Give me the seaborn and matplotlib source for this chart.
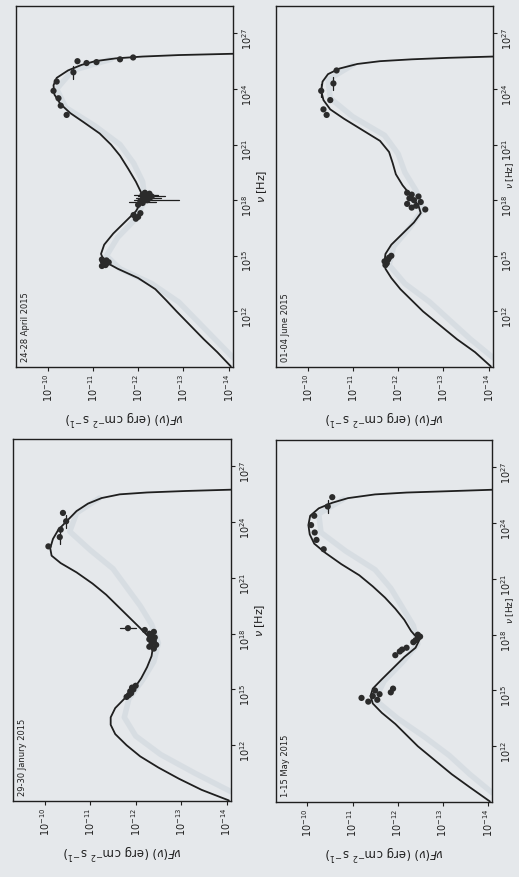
import numpy as np
import matplotlib
matplotlib.use("Agg")
import matplotlib.pyplot as plt
import seaborn as sns

# ---------------- data (log10 values) ----------------
titles = ["24-28 April 2015", "01-04 June 2015", "29-30 Janury 2015", "1-15 May 2015"]

# April
apr_m_nu = [9.03, 9.8, 10.5, 11.0, 11.5, 12.0, 12.6, 13.2, 13.8, 14.3, 14.7, 15.1, 15.6, 16.2, 16.8,
            17.4, 17.9, 18.4, 19.0, 19.7, 20.4, 21.0, 21.6, 22.2, 22.7, 23.2, 23.7, 24.2, 24.6, 25.0,
            25.3, 25.5, 25.65, 25.75, 25.83, 25.9]
apr_m_F = [-14.05, -13.75, -13.45, -13.25, -13.05, -12.85, -12.62, -12.38, -12.0, -11.55, -11.25, -11.18,
           -11.25, -11.45, -11.7, -11.95, -12.07, -12.07, -11.95, -11.78, -11.6, -11.4, -11.15, -10.8,
           -10.5, -10.28, -10.15, -10.13, -10.2, -10.45, -10.75, -11.05, -11.5, -12.1, -12.9, -14.1]
apr_b_nu = [9.5, 10.5, 11.5, 12.5, 13.5, 14.3, 15.0, 16.0, 17.0, 18.0, 19.0, 20.0, 21.0, 22.0, 23.0, 24.0, 25.0, 25.6]
apr_b_F = [-14.1, -13.7, -13.3, -12.9, -12.3, -11.6, -11.3, -11.55, -11.95, -12.15, -12.1, -11.9, -11.6, -11.05, -10.4, -10.2, -10.55, -11.4]
apr_p_nu = [14.45, 14.55, 14.6, 14.7, 14.75, 14.8, 14.65, 14.5, 17.0, 17.1, 17.2, 17.3,
            17.75, 17.85, 17.95, 18.0, 18.05, 18.1, 18.15, 18.2, 18.25, 18.3, 18.35, 18.4,
            22.6, 23.1, 23.5, 23.9, 24.4, 24.9, 25.4, 25.45, 25.5, 25.6, 25.7]
apr_p_F = [-11.2, -11.25, -11.3, -11.22, -11.3, -11.2, -11.35, -11.28, -11.95, -12.0, -11.9, -12.05,
           -12.0, -12.1, -12.05, -12.2, -12.1, -12.25, -12.15, -12.3, -12.2, -12.1, -12.25, -12.15,
           -10.42, -10.29, -10.24, -10.13, -10.2, -10.57, -10.86, -11.08, -10.66, -11.6, -11.89]
apr_e_nu = [17.9, 18.0, 18.1, 18.2, 18.3, 24.9]
apr_e_lo = [-12.4, -12.9, -12.5, -12.6, -12.45, -10.57]
apr_e_hi = [-11.8, -11.9, -11.95, -12.0, -11.9, -10.57]

# June
jun_m_nu = [9.03, 9.8, 10.5, 11.0, 11.5, 12.0, 12.6, 13.2, 13.8, 14.3, 14.7, 15.1, 15.6, 16.2, 16.8,
            17.3, 17.7, 18.2, 18.8, 19.4, 20.0, 20.6, 21.2, 21.8, 22.4, 22.9, 23.4, 23.9, 24.4, 24.8,
            25.1, 25.35, 25.5, 25.6, 25.68, 25.75]
jun_m_F = [-14.05, -13.7, -13.3, -13.05, -12.8, -12.55, -12.3, -12.05, -11.85, -11.72, -11.7, -11.72,
           -11.85, -12.1, -12.35, -12.5, -12.45, -12.3, -12.1, -11.95, -11.88, -11.8, -11.6, -11.2,
           -10.8, -10.5, -10.35, -10.3, -10.33, -10.45, -10.7, -11.1, -11.6, -12.3, -13.1, -14.1]
jun_b_nu = [9.5, 10.5, 11.5, 12.5, 13.5, 14.5, 15.5, 16.5, 17.5, 18.5, 19.5, 20.5, 21.5, 22.5, 23.5, 24.5, 25.3]
jun_b_F = [-14.1, -13.6, -13.15, -12.7, -12.15, -11.8, -11.9, -12.25, -12.55, -12.4, -12.15, -12.0, -11.7, -11.0, -10.5, -10.45, -11.0]
jun_p_nu = [14.5, 14.6, 14.7, 14.8, 14.9, 15.0, 17.6, 17.7, 17.8, 17.9, 18.0, 18.1, 18.2, 18.3, 18.4, 17.5,
            22.6, 22.9, 23.4, 23.9, 24.3, 25.0]
jun_p_F = [-11.72, -11.75, -11.7, -11.78, -11.8, -11.85, -12.3, -12.4, -12.2, -12.5, -12.35, -12.25, -12.45,
           -12.3, -12.2, -12.6, -10.42, -10.35, -10.5, -10.3, -10.57, -10.64]
jun_e_nu = [24.3, 23.9]
jun_e_lo = [-10.57, -10.3]
jun_e_hi = [-10.57, -10.3]

# January
jan_m_nu = [9.03, 9.6, 10.2, 10.8, 11.4, 12.0, 12.6, 13.1, 13.5, 14.0, 14.5, 15.0, 15.6, 16.2, 16.8,
            17.3, 17.8, 18.3, 18.9, 19.5, 20.1, 20.7, 21.3, 21.8, 22.2, 22.6, 23.1, 23.6, 24.1, 24.6,
            25.0, 25.3, 25.5, 25.6, 25.68, 25.75]
jan_m_F = [-14.05, -13.45, -12.95, -12.5, -12.1, -11.8, -11.55, -11.45, -11.45, -11.55, -11.75, -11.95,
           -12.12, -12.25, -12.35, -12.38, -12.3, -12.1, -11.85, -11.6, -11.35, -11.05, -10.7, -10.35,
           -10.15, -10.12, -10.18, -10.3, -10.5, -10.7, -10.95, -11.25, -11.65, -12.25, -13.1, -14.1]
jan_b_nu = [9.5, 10.5, 11.5, 12.5, 13.5, 14.5, 15.5, 16.5, 17.5, 18.5, 19.5, 20.5, 21.5, 22.5, 23.5, 24.5, 25.3]
jan_b_F = [-14.1, -13.3, -12.55, -12.0, -11.75, -11.85, -12.15, -12.4, -12.5, -12.35, -12.1, -11.8, -11.5, -11.0, -10.55, -10.7, -11.2]
jan_p_nu = [14.6, 14.7, 14.8, 14.9, 15.0, 15.1, 15.2, 17.2, 17.3, 17.4, 17.5, 17.6, 17.7, 17.8, 17.9,
            18.0, 18.1, 18.2, 18.3, 22.7, 23.2, 23.6, 24.05, 24.5]
jan_p_F = [-11.8, -11.85, -11.9, -11.88, -11.95, -11.92, -12.0, -12.4, -12.3, -12.45, -12.35, -12.4, -12.3,
           -12.42, -12.35, -12.3, -12.4, -12.2, -11.83, -10.08, -10.33, -10.35, -10.47, -10.4]
jan_e_nu = [18.3, 23.2, 24.05]
jan_e_lo = [-12.0, -10.33, -10.47]
jan_e_hi = [-11.65, -10.33, -10.47]

# May
may_m_nu = [9.03, 9.8, 10.5, 11.0, 11.5, 12.0, 12.6, 13.2, 13.8, 14.3, 14.7, 15.1, 15.6, 16.2, 16.8,
            17.3, 17.7, 18.2, 18.8, 19.4, 20.0, 20.6, 21.2, 21.8, 22.4, 22.9, 23.4, 23.9, 24.4, 24.8,
            25.1, 25.35, 25.55, 25.65, 25.72, 25.8]
may_m_F = [-14.05, -13.6, -13.2, -12.95, -12.7, -12.45, -12.2, -11.95, -11.65, -11.45, -11.4, -11.45,
           -11.65, -11.9, -12.15, -12.4, -12.48, -12.3, -12.15, -11.95, -11.72, -11.45, -11.15, -10.75,
           -10.4, -10.15, -10.05, -10.02, -10.06, -10.25, -10.55, -10.9, -11.5, -12.2, -13.1, -14.1]
may_b_nu = [9.5, 10.5, 11.5, 12.5, 13.5, 14.5, 15.5, 16.5, 17.5, 18.5, 19.5, 20.5, 21.5, 22.5, 23.5, 24.5, 25.3]
may_b_F = [-14.1, -13.6, -13.15, -12.6, -12.0, -11.5, -11.7, -12.1, -12.45, -12.35, -12.1, -11.85, -11.5, -10.85, -10.3, -10.25, -10.8]
may_p_nu = [14.4, 14.5, 14.6, 14.7, 14.8, 14.9, 15.0, 15.1, 16.9, 17.1, 17.2, 17.3, 17.6, 17.7, 17.8, 17.9, 18.0,
            22.6, 23.1, 23.5, 23.9, 24.4, 24.9, 25.4]
may_p_F = [-11.35, -11.55, -11.2, -11.45, -11.6, -11.85, -11.5, -11.9, -11.95, -12.05, -12.1, -12.2, -12.35,
           -12.4, -12.45, -12.5, -12.45, -10.36, -10.2, -10.16, -10.08, -10.15, -10.45, -10.55]
may_e_nu = [24.9]
may_e_lo = [-10.45]
may_e_hi = [-10.45]

panels = [
    (apr_m_nu, apr_m_F, apr_b_nu, apr_b_F, apr_p_nu, apr_p_F, apr_e_nu, apr_e_lo, apr_e_hi),
    (jun_m_nu, jun_m_F, jun_b_nu, jun_b_F, jun_p_nu, jun_p_F, jun_e_nu, jun_e_lo, jun_e_hi),
    (jan_m_nu, jan_m_F, jan_b_nu, jan_b_F, jan_p_nu, jan_p_F, jan_e_nu, jan_e_lo, jan_e_hi),
    (may_m_nu, may_m_F, may_b_nu, may_b_F, may_p_nu, may_p_F, may_e_nu, may_e_lo, may_e_hi),
]

nu_ticks = [1e12, 1e15, 1e18, 1e21, 1e24, 1e27]
F_ticks = [1e-10, 1e-11, 1e-12, 1e-13, 1e-14]

# ---------------- style ----------------
sns.set_theme(style="white")
BG = "#e5e8eb"
INK = "#1f1f1f"
plt.rcParams["font.family"] = ["DejaVu Sans"]

W, H = 519, 877
fig = plt.figure(figsize=(W / 100, H / 100), dpi=100, facecolor=BG)

# pixel boxes: (left, top, width, height); right column flag
boxes = [(16, 6, 217, 361), (276, 6, 217, 361), (13, 439, 218, 362), (276, 440, 216, 362)]
right_col = [False, True, False, True]

for (mnu, mF, bnu, bF, pnu, pF, enu, elo, ehi), (x0, y0, w, h), title, rc in zip(panels, boxes, titles, right_col):
    ax = fig.add_axes([x0 / W, 1 - (y0 + h) / H, w / W, h / H])
    ax.set_facecolor(BG)
    ax.set_xscale("log")
    ax.set_yscale("log")
    # faint model spread
    sns.lineplot(x=10 ** np.array(bF), y=10 ** np.array(bnu), sort=False, estimator=None,
                 color="#a9b8c6", lw=4, alpha=0.22, ax=ax)
    # model
    sns.lineplot(x=10 ** np.array(mF), y=10 ** np.array(mnu), sort=False, estimator=None,
                 color=INK, lw=1.3, ax=ax)
    # error bars
    for n, lo, hi in zip(enu, elo, ehi):
        if lo != hi:
            ax.plot([10 ** lo, 10 ** hi], [10 ** n, 10 ** n], color=INK, lw=0.9)
        else:
            ax.plot([10 ** lo, 10 ** lo], [10 ** (n - 0.35), 10 ** (n + 0.35)], color=INK, lw=0.9)
    # data
    sns.scatterplot(x=10 ** np.array(pF), y=10 ** np.array(pnu), color="#2b2b2b", s=20,
                    edgecolor="none", ax=ax, zorder=5)

    ax.set_xlim(5e-10, 8e-15)
    ax.set_ylim(1e9, 3e28)
    ax.set_xticks(F_ticks)
    ax.set_yticks(nu_ticks)
    ax.minorticks_off()
    ax.yaxis.tick_right()
    ax.yaxis.set_label_position("right")
    ax.tick_params(axis="both", which="major", direction="out", length=3, width=0.8,
                   color=INK, labelsize=7, labelcolor=INK, labelrotation=90, pad=2,
                   bottom=True, right=True, left=False, top=False)
    ax.set_xlabel(r"$\nu F(\nu)$ (erg cm$^{-2}$ s$^{-1}$)", rotation=180, fontsize=8.5,
                  color=INK, labelpad=3)
    if rc:
        ax.set_ylabel(r"$\nu$ [Hz]", rotation=90, fontsize=6.5, color=INK)
        ax.yaxis.set_label_coords((W - 15 - x0) / w, 0.53)
    else:
        ax.set_ylabel(r"$\nu$ [Hz]", rotation=90, fontsize=8, color=INK, labelpad=1)
    for s in ax.spines.values():
        s.set_color(INK)
        s.set_linewidth(1.0)
    ax.text(0.025, 0.015, title, transform=ax.transAxes, rotation=90, ha="left", va="bottom",
            fontsize=6, color=INK)

fig.savefig("out.png", dpi=100, facecolor=BG)
